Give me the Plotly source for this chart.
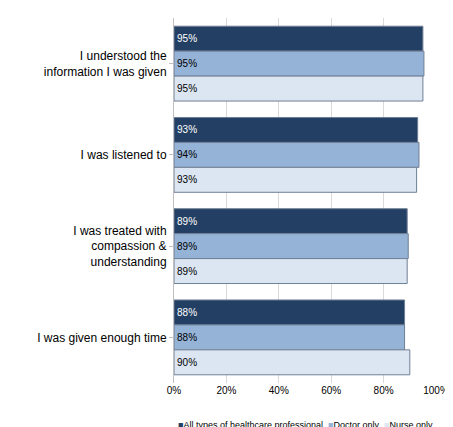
import plotly.graph_objects as go

categories = ["I understood the<br>information I was given", "I was listened to",
              "I was treated with<br>compassion &<br>understanding", "I was given enough time"]
series_names = ["All types of healthcare professional", "Doctor only", "Nurse only"]
all_vals = [95, 93, 89, 88]
doctor_vals = [95.4, 93.5, 89.4, 88]
nurse_vals = [95, 92.6, 89, 90]
all_labels = ["95%", "93%", "89%", "88%"]
doctor_labels = ["95%", "94%", "89%", "88%"]
nurse_labels = ["95%", "93%", "89%", "90%"]
colors = ["#243F64", "#95B3D7", "#DCE6F2"]
text_colors = ["white", "black", "black"]

fig = go.Figure()
for name, vals, labs, c, tc in zip(series_names, [all_vals, doctor_vals, nurse_vals],
                                   [all_labels, doctor_labels, nurse_labels], colors, text_colors):
    fig.add_trace(go.Bar(y=categories, x=vals, name=name, orientation="h",
                         marker=dict(color=c, line=dict(color="#6F7F95", width=1)),
                         text=labs, textposition="inside", insidetextanchor="start",
                         textfont=dict(color=tc, size=10, family="Liberation Sans"),
                         cliponaxis=False, showlegend=False))

legend_text = "&nbsp;&nbsp;".join(
    f"<span style='color:{c}'>■</span>{n}" for n, c in zip(series_names, colors))
fig.add_annotation(text=legend_text, xref="paper", yref="paper", x=0.5, xanchor="center",
                   y=-0.095, yanchor="top", showarrow=False,
                   font=dict(size=9, color="black", family="Liberation Sans"))

fig.update_layout(
    width=453, height=427, barmode="group", bargap=0.18, bargroupgap=0,
    paper_bgcolor="white", plot_bgcolor="white",
    margin=dict(l=166, r=25, t=10, b=52),
    font=dict(family="Liberation Sans", size=12, color="black"),
    xaxis=dict(range=[0, 100], dtick=20, ticksuffix="%", showgrid=True, gridcolor="#D9D9D9",
               tickfont=dict(size=10), zeroline=False, showline=False),
    yaxis=dict(autorange="reversed", showline=True, linecolor="#BFBFBF", ticks="outside",
               ticklen=4, tickcolor="#BFBFBF", tickfont=dict(size=12)),
    uniformtext=dict(minsize=8, mode="show"),
)
fig.write_html("out.html")
